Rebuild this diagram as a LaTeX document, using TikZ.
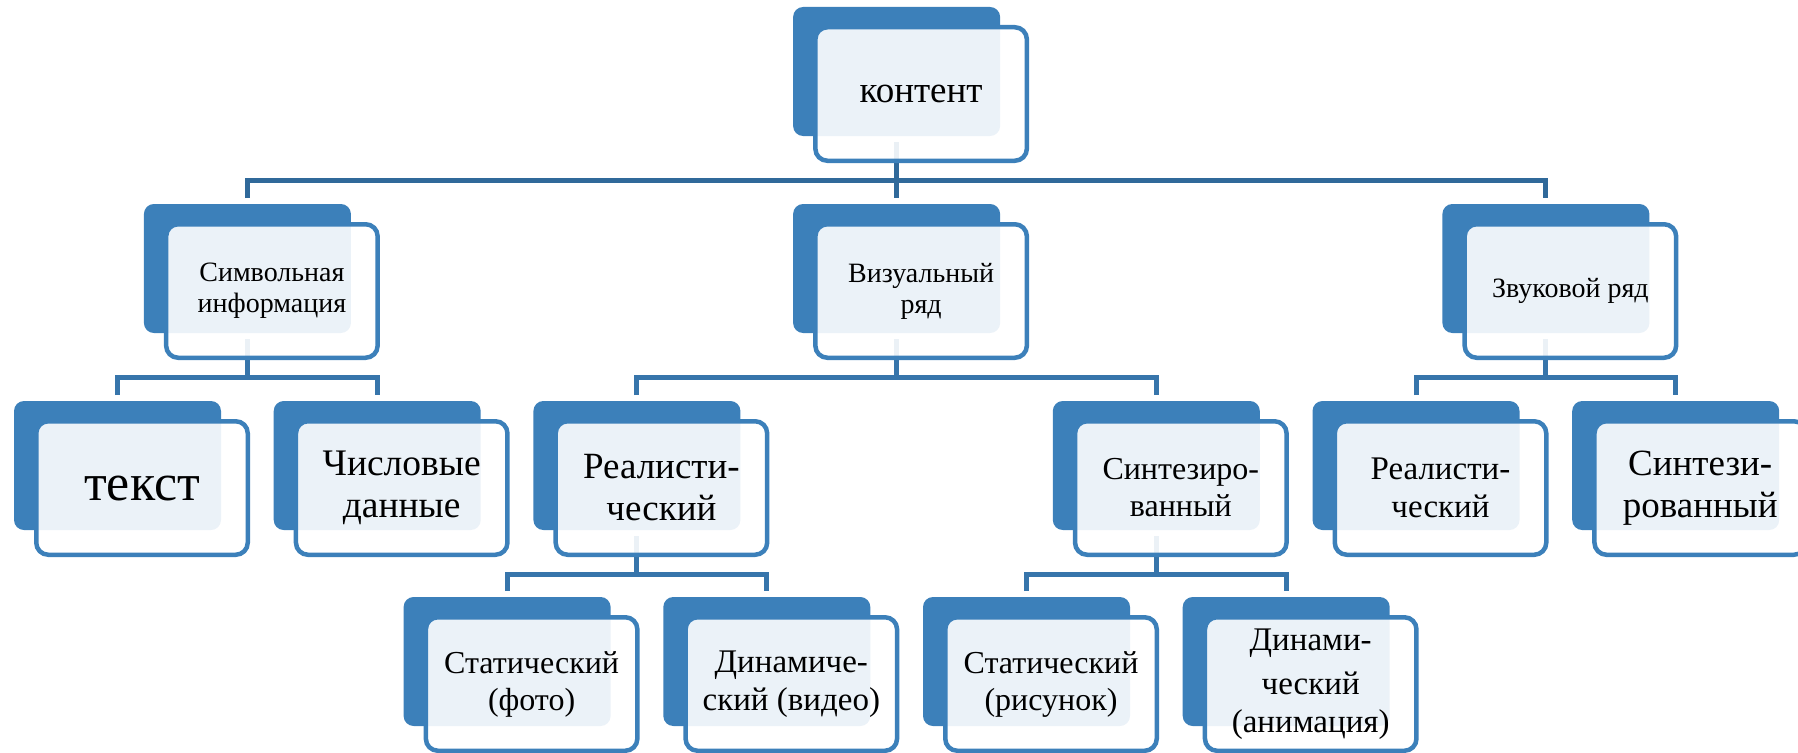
\documentclass[tikz,border=0pt]{standalone}
\usepackage{fontspec}
\setmainfont{Liberation Serif}
\usetikzlibrary{calc}
\pgfdeclarelayer{bg}
\pgfsetlayers{bg,main}
\definecolor{bblue}{HTML}{3C80BA}
\definecolor{lblue}{HTML}{3775AB}
\definecolor{dblue}{HTML}{30699A}
\tikzset{
 backbox/.style={fill=bblue, rounded corners=10pt, minimum width=207pt, minimum height=129pt, inner sep=0pt, outer sep=0pt, anchor=north west},
 frontbox/.style={draw=bblue, line width=4.5pt, fill=white, fill opacity=0.9, rounded corners=12pt, minimum width=211.5pt, minimum height=133.5pt, inner sep=0pt, anchor=north west},
 lbl/.style={align=center, text=black, inner sep=0pt},
 conn/.style={draw=lblue, line width=5pt, line join=miter},
 topconn/.style={conn, draw=dblue},
}
\newcommand\bx[6]{% name, x, y, size, skip, text
 \node[backbox] (#1-b) at (#2,#3) {};
 \node[frontbox] (#1) at ({#2+20},{#3+18}) {};
 \node[lbl, font=\fontsize{#4}{#5}\selectfont] (#1-t) at (#1.center) {#6};
 \coordinate (#1-j) at ($(#1-b.south |- #1.south)+(0,17)$);
}
\begin{document}
\begin{tikzpicture}[x=1pt,y=-1pt]
\useasboundingbox (0,0) rectangle (1798,752);
\clip (0,0) rectangle (1798,752);
\bx{kon}{793.1}{7}{37}{42}{контент}
\bx{sym}{143.9}{204}{28}{31}{Символьная\\информация}
\bx{vis}{793.1}{204}{28}{31}{Визуальный\\ряд}
\bx{zvu}{1442.4}{204}{28}{31}{Звуковой ряд}
\bx{tek}{14}{401}{52}{58}{текст}
\bx{chi}{273.7}{401}{37.5}{42}{Числовые\\данные}
\bx{rea}{533.4}{401}{37}{42}{Реалисти-\\ческий}
\bx{sin}{1052.8}{401}{32}{37}{Синтезиро-\\ванный}
\bx{rez}{1312.5}{401}{33}{38}{Реалисти-\\ческий}
\bx{siz}{1572.2}{401}{37}{42}{Синтези-\\рованный}
\bx{stf}{403.6}{597}{32}{37}{Статический\\(фото)}
\bx{div}{663.3}{597}{33}{38}{Динамиче-\\ский (видео)}
\bx{str}{923}{597}{32}{37}{Статический\\(рисунок)}
\bx{dia}{1182.7}{597}{33}{38}{Динами-\\[6pt]ческий\\(анимация)}
\begin{pgfonlayer}{bg}
 \draw[topconn] ([yshift=-6pt]kon-b.south) -- ([yshift=6pt]vis-b.north);
 \draw[topconn] ([yshift=6pt]sym-b.north) |- (kon-j) -| ([yshift=6pt]zvu-b.north);
 \draw[conn] ([yshift=-6pt]sym-b.south) -- (sym-j);
 \draw[conn] ([yshift=6pt]tek-b.north) |- (sym-j) -| ([yshift=6pt]chi-b.north);
 \draw[conn] ([yshift=-6pt]vis-b.south) -- (vis-j);
 \draw[conn] ([yshift=6pt]rea-b.north) |- (vis-j) -| ([yshift=6pt]sin-b.north);
 \draw[conn] ([yshift=-6pt]zvu-b.south) -- (zvu-j);
 \draw[conn] ([yshift=6pt]rez-b.north) |- (zvu-j) -| ([yshift=6pt]siz-b.north);
 \draw[conn] ([yshift=-6pt]rea-b.south) -- (rea-j);
 \draw[conn] ([yshift=6pt]stf-b.north) |- (rea-j) -| ([yshift=6pt]div-b.north);
 \draw[conn] ([yshift=-6pt]sin-b.south) -- (sin-j);
 \draw[conn] ([yshift=6pt]str-b.north) |- (sin-j) -| ([yshift=6pt]dia-b.north);
\end{pgfonlayer}
\end{tikzpicture}
\end{document}
